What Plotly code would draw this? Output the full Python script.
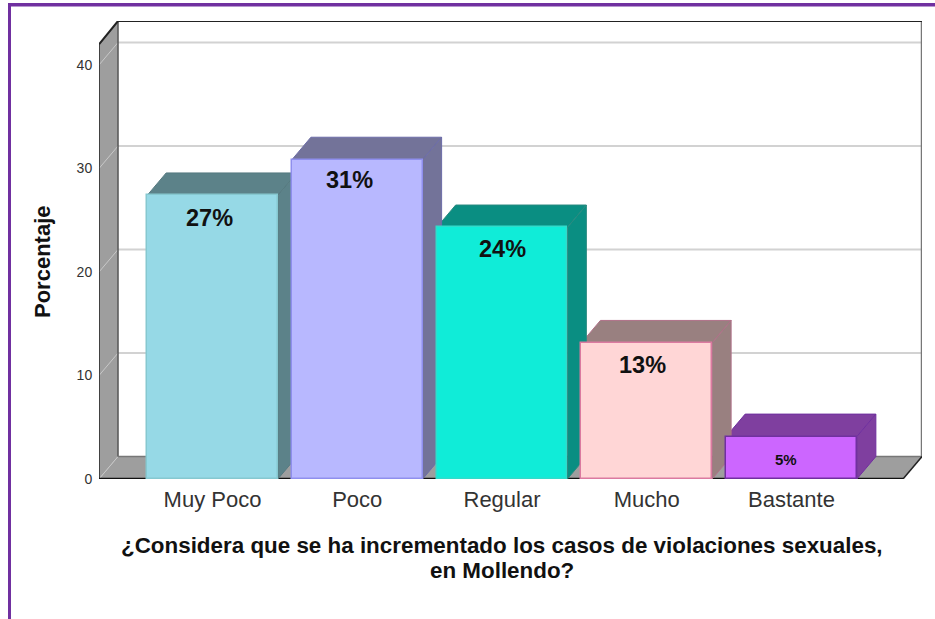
import plotly.graph_objects as go

categories = ["Muy Poco", "Poco", "Regular", "Mucho", "Bastante"]
values = [27.4, 30.85, 24.3, 13.15, 4.1]
labels = ["27%", "31%", "24%", "13%", "5%"]
label_heights = [25.2, 28.9, 22.2, 11.0, 1.85]
label_shifts = [-0.024, -0.052, 0.0, -0.028, -0.035]
label_sizes = [23.5, 23.5, 23.5, 23.5, 15]
front_colors = ["#96D9E6", "#B8B8FF", "#10ECD8", "#FFD6D6", "#CC66FF"]
depth_colors = ["#5C8289", "#737399", "#0A8E82", "#998080", "#7F3F9F"]
edge_colors = ["#86C8D0", "#8F8FEE", "#30DCCB", "#DB7AA0", "#70309F"]
depth_edges = ["#567A80", "#6C6CA8", "#2A8A80", "#B07088", "#70309F"]
y_ticks = [0, 10, 20, 30, 40]

W, H = 935, 619
PX_L, PX_R, PX_T, PX_B = 99, 922, 21, 479
X_RANGE = [-0.7842, 4.9015]
Y_RANGE = [0, 44.25]
DX, DY = 0.1313, 2.17
BAR_W = 0.903
Y_FRONT_TOP = 42.0
X_FRONT_R = X_RANGE[1] - DX
WALL = "#9E9E9E"

fig = go.Figure()


def poly(xs, ys, fill, line="rgba(0,0,0,0)", width=1):
    fig.add_trace(go.Scatter(x=xs, y=ys, mode="lines", fill="toself", fillcolor=fill,
                             line=dict(color=line, width=width), hoverinfo="skip", showlegend=False))


def seg(xs, ys, color, width=1):
    fig.add_trace(go.Scatter(x=xs, y=ys, mode="lines", line=dict(color=color, width=width),
                             hoverinfo="skip", showlegend=False))


x0, xb = X_RANGE[0], X_RANGE[0] + DX
# left wall and floor
poly([x0, xb, xb, x0, x0], [0, DY, Y_RANGE[1], Y_FRONT_TOP, 0], WALL)
poly([x0, xb, X_RANGE[1], X_FRONT_R, x0], [0, DY, DY, 0, 0], WALL)

# gridlines on back wall and their diagonals on the left wall
for t in y_ticks:
    seg([x0, xb], [t, t + DY], "#C8C8C8", 1)
    if t > 0:
        seg([xb, X_RANGE[1]], [t + DY, t + DY], "#D2D2D2", 2)

# wall frame
seg([xb, xb], [DY, Y_RANGE[1]], "#555555", 1.5)
seg([xb, X_RANGE[1]], [DY, DY], "#777777", 1.5)
seg([X_RANGE[1], X_RANGE[1]], [DY, Y_RANGE[1]], "#777777", 2.5)
seg([x0, xb, X_RANGE[1]], [Y_FRONT_TOP, Y_RANGE[1], Y_RANGE[1]], "#222222", 2)
seg([x0, x0], [0, Y_FRONT_TOP], "#222222", 1.5)
seg([X_FRONT_R, X_RANGE[1]], [0, DY], "#222222", 1.5)
seg([x0, X_FRONT_R], [0, 0], "#111111", 2.5)

# bar depth faces, right to left so each side sits over the next bar's top
for i in reversed(range(len(values))):
    v = values[i]
    a, b = i - BAR_W / 2, i + BAR_W / 2
    poly([a, b, b + DX, a + DX, a], [v, v, v + DY, v + DY, v], depth_colors[i], depth_edges[i], 1)
    poly([b, b + DX, b + DX, b, b], [0, DY, v + DY, v, 0], depth_colors[i], depth_edges[i], 1)

# front faces on an overlaid axis pair so they sit above every depth face
fig.add_trace(go.Bar(x=list(range(len(values))), y=values, width=BAR_W, xaxis="x2", yaxis="y2",
                     marker=dict(color=front_colors, line=dict(color=edge_colors, width=1.5)),
                     hovertemplate="%{y}<extra></extra>", showlegend=False))

annotations = [
    dict(x=i + dx, y=h, xref="x2", yref="y2", text=f"<b>{lab}</b>", showarrow=False,
         xanchor="center", yanchor="middle",
         font=dict(family="Liberation Sans", size=s, color="#111111"))
    for i, (h, dx, lab, s) in enumerate(zip(label_heights, label_shifts, labels, label_sizes))
]
for px_y, line in [(545.5, "¿Considera que se ha incrementado los casos de violaciones sexuales,"),
                   (570.5, "en Mollendo?")]:
    annotations.append(dict(x=502 / W, y=1 - px_y / H, xref="paper", yref="paper", text=f"<b>{line}</b>",
                            xanchor="center", yanchor="middle", showarrow=False,
                            font=dict(family="Liberation Sans", size=22.4, color="#111111")))
annotations.append(dict(x=42 / W, y=1 - 262 / H, xref="paper", yref="paper", text="<b>Porcentaje</b>",
                        textangle=-90, xanchor="center", yanchor="middle", showarrow=False,
                        font=dict(family="Liberation Sans", size=22, color="#111111")))

BORDER = "#7030A0"
shapes = [
    dict(type="rect", xref="paper", yref="paper", x0=8 / W, x1=11 / W, y0=0, y1=1 - 3 / H,
         fillcolor=BORDER, line=dict(width=0), layer="above"),
    dict(type="rect", xref="paper", yref="paper", x0=8 / W, x1=1, y0=1 - 6.5 / H, y1=1 - 3 / H,
         fillcolor=BORDER, line=dict(width=0), layer="above"),
]

dom_x = [PX_L / W, PX_R / W]
dom_y = [(H - PX_B) / H, (H - PX_T) / H]
fig.update_layout(
    width=W, height=H, autosize=False, margin=dict(l=0, r=0, t=0, b=0, autoexpand=False),
    paper_bgcolor="white", plot_bgcolor="white", showlegend=False, bargap=0,
    shapes=shapes, annotations=annotations,
    xaxis=dict(domain=dom_x, range=X_RANGE, tickmode="array", tickvals=list(range(len(categories))),
               ticktext=categories, showgrid=False, zeroline=False, showline=False,
               ticks="outside", ticklen=1, tickcolor="rgba(0,0,0,0)",
               tickfont=dict(family="Liberation Sans", size=22, color="#333333")),
    yaxis=dict(domain=dom_y, range=Y_RANGE, tickmode="array", tickvals=y_ticks,
               showgrid=False, zeroline=False, showline=False,
               ticks="outside", ticklen=3, tickcolor="rgba(0,0,0,0)",
               tickfont=dict(family="Liberation Sans", size=14, color="#333333")),
    xaxis2=dict(domain=dom_x, range=X_RANGE, overlaying="x", visible=False, anchor="y2"),
    yaxis2=dict(domain=dom_y, range=Y_RANGE, overlaying="y", visible=False, anchor="x2"),
)

fig.write_html("out.html", config=dict(displayModeBar=False, responsive=False),
               post_script="document.body.style.margin='0';document.documentElement.style.overflow='hidden';")
